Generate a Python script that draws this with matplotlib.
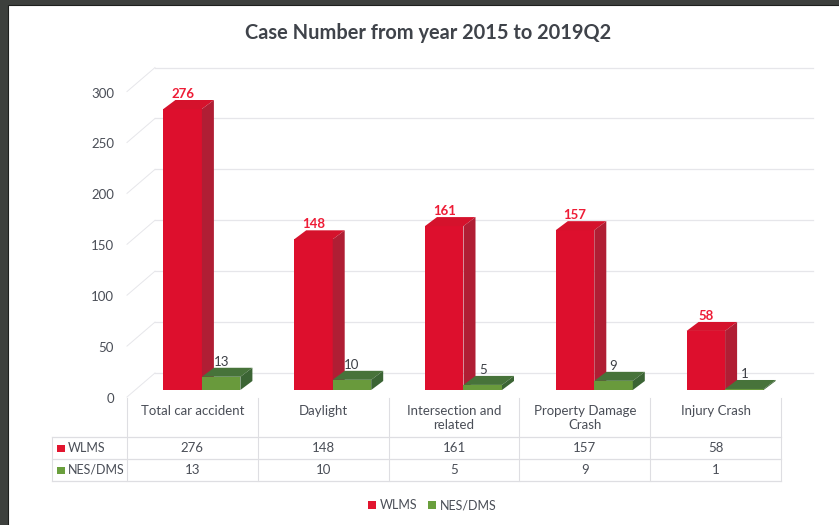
import matplotlib
matplotlib.use("Agg")
import matplotlib.pyplot as plt
from matplotlib.patches import Rectangle
from matplotlib.transforms import Affine2D

W, H = 839, 525

categories = ["Total car accident", "Daylight", "Intersection and\nrelated",
              "Property Damage\nCrash", "Injury Crash"]
wlms = [276, 148, 161, 157, 58]
nes_dms = [13, 10, 5, 9, 1]
y_ticks = [0, 50, 100, 150, 200, 250, 300]

# layout in pixels, measured from the top left
COL_LEFT = 127
COL_W = 130.8
BASE_Y = 390
PX_PER_UNIT = 1.0181
BAR_DX, BAR_DY = 12, 9
WALL_DX, WALL_DY = 28, 24
FRONT_DROP = 7   # front floor edge sits this far under the bar base

plt.rcParams["font.family"] = ["Lato", "DejaVu Sans"]
TEXT = "#4a4e57"
GRID = "#e6e6ea"

fig = plt.figure(figsize=(W / 100, H / 100), dpi=100, facecolor="#3d403d")
px = Affine2D().scale(1 / W, -1 / H).translate(0, 1) + fig.transFigure

fig.patches.append(Rectangle((8, 5), W, H, transform=px, facecolor="white",
                             edgecolor="#1d1f1d", linewidth=0.8, zorder=-1))

# one axes over the whole figure: x is the category index, y the case count
ax = fig.add_axes([0, 0, 1, 1])
ax.patch.set_alpha(0)
ax.axis("off")
ax.set_xlim((0 - COL_LEFT) / COL_W - 0.5, (W - COL_LEFT) / COL_W - 0.5)
ax.set_ylim(-(H - BASE_Y) / PX_PER_UNIT, BASE_Y / PX_PER_UNIT)

ux = 1 / COL_W
uy = 1 / PX_PER_UNIT
x_left = -0.5
x_right = len(categories) - 0.5
drop = FRONT_DROP * uy

# back wall gridlines and the slanted side wall
for t in y_ticks:
    y_front = t - drop
    y_back = y_front + WALL_DY * uy
    x_back = x_left + WALL_DX * ux
    ax.plot([x_left, x_back], [y_front, y_back], color=GRID, lw=0.7, zorder=1)
    ax.plot([x_back, x_right + 0.245], [y_back, y_back], color=GRID, lw=0.9, zorder=1)
    ax.text(x_left - 13 * ux, y_front - 2 * uy, str(t), ha="right", va="center",
            fontsize=9.5, color=TEXT)


def bar3d(x0, width, value, front, top, side):
    # front face through bar(), then the top and side faces as offset polygons
    dx, dy = BAR_DX * ux, BAR_DY * uy
    ax.bar(x0, value, width, align="edge", color=front, linewidth=0, zorder=3)
    ax.fill([x0, x0 + dx, x0 + width + dx, x0 + width],
            [value, value + dy, value + dy, value], color=top, lw=0, zorder=3)
    ax.fill([x0 + width, x0 + width + dx, x0 + width + dx, x0 + width],
            [0, dy, value + dy, value], color=side, lw=0, zorder=3)


bar_w = 38.5 * ux
red_shift = -29 * ux
for i, (a, b) in enumerate(zip(wlms, nes_dms)):
    x_red = i + red_shift
    x_green = x_red + bar_w
    bar3d(x_red, bar_w, a, "#dd0f2d", "#d5122c", "#b01e34")
    bar3d(x_green, bar_w, b, "#699a3c", "#47733a", "#3b6434")
    ax.text(x_red + bar_w / 2, a + BAR_DY * uy, str(a), ha="center", va="bottom",
            fontsize=9.5, fontweight="bold", color="#ee1c36", zorder=5,
            linespacing=1)
    ax.text(x_green + bar_w / 2, b + BAR_DY * uy, str(b), ha="center", va="bottom",
            fontsize=9.5, color="#3c3f45", zorder=5)

# data table under the plot
row_tops = [437, 459, 481]
TABLE_TOP = 398
TABLE_LEFT = 52
LINE = "#dedee2"
right_px = COL_LEFT + COL_W * len(categories)
for k in range(len(categories) + 1):
    x = COL_LEFT + COL_W * k
    fig.add_artist(plt.Line2D([x, x], [TABLE_TOP, row_tops[-1]], transform=px,
                              color=LINE, lw=0.8))
fig.add_artist(plt.Line2D([TABLE_LEFT, TABLE_LEFT], [row_tops[0], row_tops[-1]],
                          transform=px, color=LINE, lw=0.8))
for y in row_tops:
    fig.add_artist(plt.Line2D([TABLE_LEFT, right_px], [y, y], transform=px,
                              color=LINE, lw=0.9))

rows = [("WLMS", wlms, "#e2152f"), ("NES/DMS", nes_dms, "#6a9f3d")]
for r, (name, values, colour) in enumerate(rows):
    yc = (row_tops[r] + row_tops[r + 1]) / 2
    fig.patches.append(Rectangle((57, yc - 3.5), 7.5, 7.5, transform=px,
                                 facecolor=colour, edgecolor="none"))
    fig.text(68, yc, name, transform=px, ha="left", va="center", fontsize=9,
             color=TEXT)
    for k, v in enumerate(values):
        fig.text(COL_LEFT + COL_W * (k + 0.5), yc, str(v), transform=px, ha="center",
                 va="center", fontsize=9.5, color=TEXT)

for k, name in enumerate(categories):
    fig.text(COL_LEFT + COL_W * (k + 0.5), 405, name, transform=px, ha="center",
             va="top", fontsize=9.5, color=TEXT, linespacing=1.2)

# legend below the table
legend_items = [(368, "WLMS", "#e2152f"), (428, "NES/DMS", "#6a9f3d")]
for x, name, colour in legend_items:
    fig.patches.append(Rectangle((x, 501), 8, 8, transform=px, facecolor=colour,
                                 edgecolor="none"))
    fig.text(x + 12, 505, name, transform=px, ha="left", va="center", fontsize=9,
             color=TEXT)

fig.text(428, 33, "Case Number from year 2015 to 2019Q2", transform=px, ha="center",
         va="center", fontsize=14.4, fontweight="bold", color="#3f434a")

fig.savefig("out.png", dpi=100, facecolor=fig.get_facecolor())
